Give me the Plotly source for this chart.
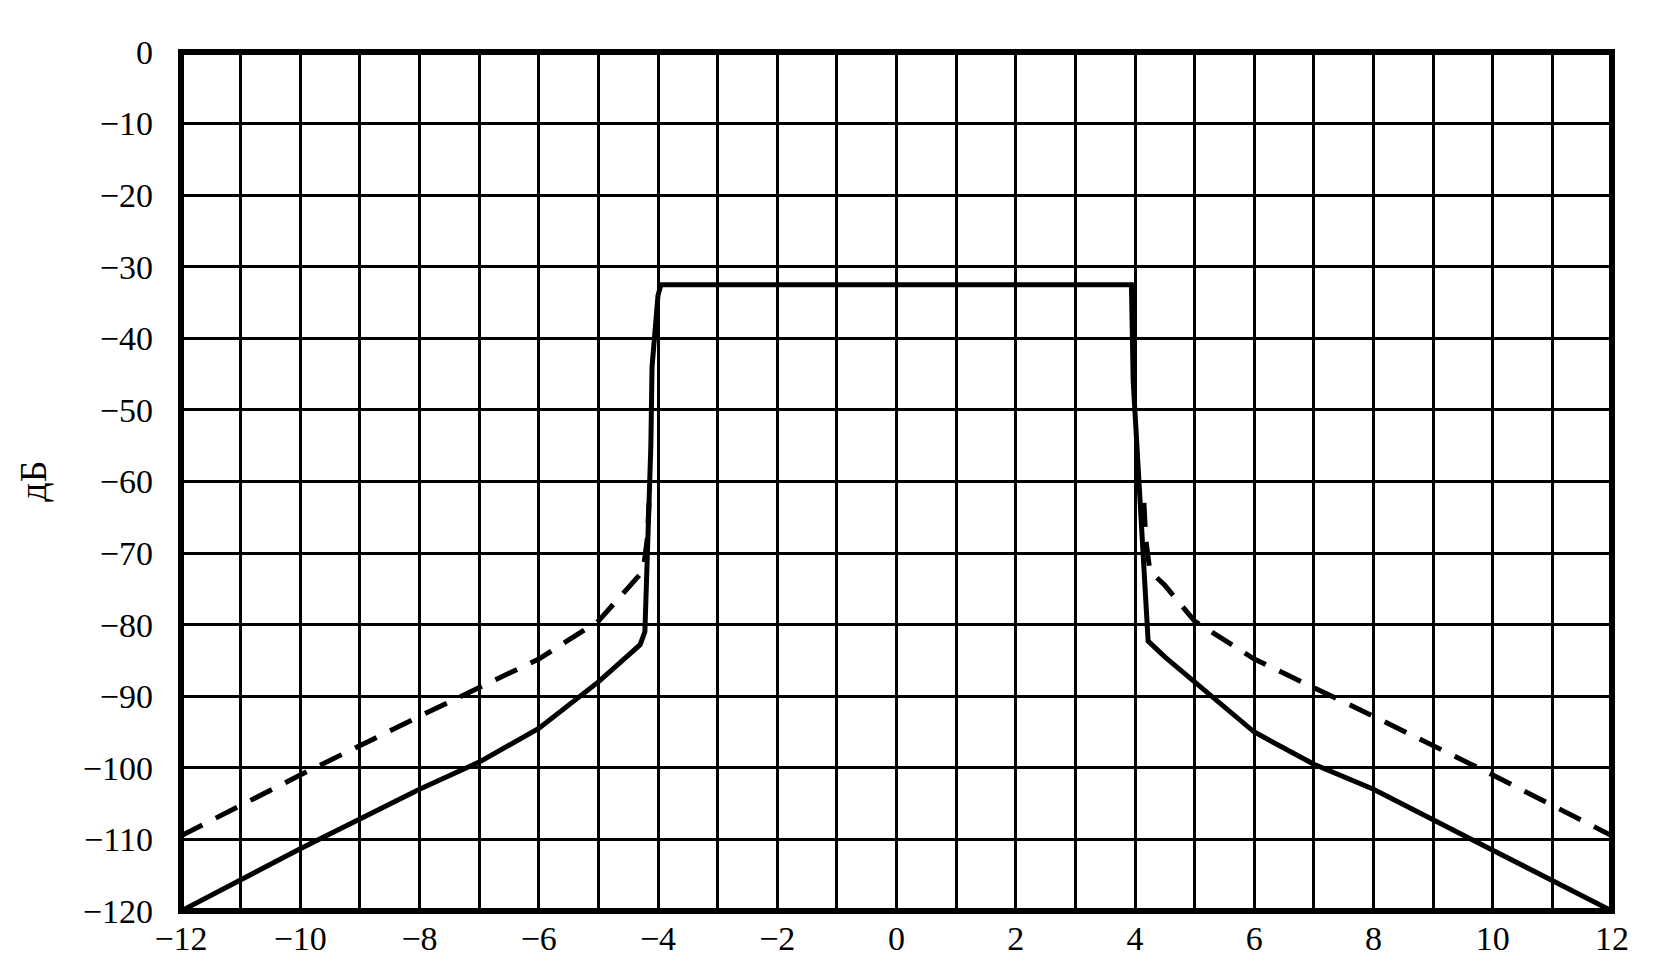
import plotly.graph_objects as go

# Solid curve
solid_x = [-12, -10, -8, -7, -6, -5, -4.5, -4.3, -4.22, -4.18, -4.15, -4.12, -4.1, -4.0, -3.95,
           3.94, 3.97, 4.07, 4.13, 4.18, 4.22, 4.5, 5.06, 6, 7, 8, 10, 12]
solid_y = [-120, -111.3, -103, -99.2, -94.5, -88, -84.3, -82.8, -81, -72, -63, -55, -44, -34, -32.5,
           -32.5, -46, -60, -69.4, -75, -82.3, -84.5, -88.4, -95, -99.5, -103, -111.5, -120]

# Dashed curve (left and right skirts, joining the steep flanks)
dash_x = [-12, -10, -8, -6, -5, -4.42, -4.25, -4.18, -4.15, None,
          4.15, 4.18, 4.25, 4.5, 5, 6, 8, 10, 12]
dash_y = [-109.5, -101, -92.8, -84.8, -79.5, -74, -72.5, -68, -63, None,
          -63, -68, -72.5, -74.5, -79.5, -84.8, -92.8, -101, -109.5]

x_ticks = [-12, -10, -8, -6, -4, -2, 0, 2, 4, 6, 8, 10, 12]
y_ticks = [0, -10, -20, -30, -40, -50, -60, -70, -80, -90, -100, -110, -120]
y_title = "дБ"

font = dict(family="Liberation Serif", size=34, color="black")

fig = go.Figure()
fig.add_trace(go.Scatter(x=solid_x, y=solid_y, mode="lines",
                         line=dict(color="black", width=5), showlegend=False))
fig.add_trace(go.Scatter(x=dash_x, y=dash_y, mode="lines", connectgaps=False,
                         line=dict(color="black", width=5, dash="24px,15px"), showlegend=False))

fig.update_layout(
    width=1654, height=975,
    margin=dict(l=173, r=50, t=44, b=72),
    paper_bgcolor="white", plot_bgcolor="white",
    font=font,
    showlegend=False,
)
fig.update_xaxes(range=[-12, 12], tickvals=x_ticks,
                 showgrid=True, gridcolor="black", gridwidth=3,
                 minor=dict(dtick=1, showgrid=True, gridcolor="black", gridwidth=3),
                 zeroline=False, showline=False,
                 ticks="", ticklabelstandoff=4, tickfont=font)
fig.update_yaxes(range=[-120, 0], tickvals=y_ticks,
                 showgrid=True, gridcolor="black", gridwidth=3,
                 zeroline=False, showline=False,
                 ticks="", ticklabelstandoff=27, tickfont=font)
# plot frame
fig.add_shape(type="rect", xref="paper", yref="paper", x0=0, y0=0, x1=1, y1=1,
              line=dict(color="black", width=6), layer="above")
fig.add_annotation(text=y_title, textangle=-90, xref="paper", yref="paper",
                   x=-0.104, y=0.50, xanchor="center", yanchor="middle",
                   showarrow=False, font=dict(family="Liberation Serif", size=38, color="black"))

fig.write_html("out.html")
